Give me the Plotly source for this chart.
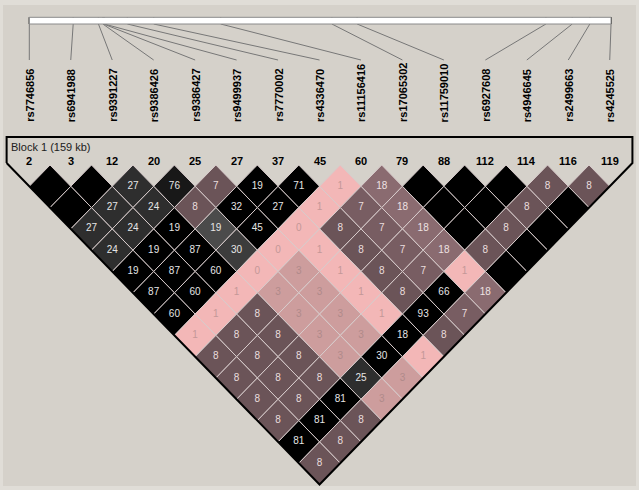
import plotly.graph_objects as go

# ---------------- data ----------------
snp_names = ["rs7746856", "rs6941988", "rs9391227", "rs9386426", "rs9386427",
             "rs9499937", "rs7770002", "rs4336470", "rs11156416", "rs17065302",
             "rs11759010", "rs6927608", "rs4946645", "rs2499663", "rs4245525"]
snp_index = ["2", "3", "12", "20", "25", "27", "37", "45", "60", "79",
             "88", "112", "114", "116", "119"]
snp_pos_kb = [0.0, 12.0, 18.9, 20.1, 20.3, 20.5, 26.8, 34.0, 52.3, 82.7,
              89.6, 141.2, 148.4, 153.2, 159.0]
block_label = "Block 1 (159 kb)"
block_kb = 159.0

# r2 x 100 shown in each diamond, row d = distance between markers (1..14)
ld_values = [
    ["", "", "27", "76", "7", "19", "71", "1", "18", "", "", "", "8", "8"],
    ["", "27", "24", "8", "32", "27", "1", "7", "18", "", "", "8", ""],
    ["27", "24", "19", "19", "45", "0", "8", "7", "18", "", "8", ""],
    ["24", "19", "87", "30", "0", "1", "8", "7", "18", "8", ""],
    ["19", "87", "60", "0", "3", "1", "8", "7", "1", ""],
    ["87", "60", "1", "3", "3", "1", "8", "66", "18"],
    ["60", "1", "8", "3", "3", "1", "93", "7"],
    ["1", "8", "8", "3", "3", "18", "8"],
    ["8", "8", "8", "3", "30", "1"],
    ["8", "8", "8", "25", "3"],
    ["8", "8", "81", "3"],
    ["8", "81", "8"],
    ["81", "8"],
    ["8"],
]
ld_colors = [
    "KKDNBKKPMKKKBB",
    "KDDBKKPCMKKBK",
    "DDKFKPBCMKBK",
    "DKKEPPBCMBK",
    "KKKPQPBCPK",
    "KKPQQPBKM",
    "KPBQQPKC",
    "PBBQQKB",
    "BBBQKP",
    "BBBDQ",
    "BBKQ",
    "BKB",
    "KB",
    "B",
]

palette = {
    "K": "#000000", "N": "#181818", "D": "#2e2e2e", "E": "#3c3c3c",
    "F": "#4b4b4b", "B": "#6b5458", "C": "#785d62", "M": "#8a6b70",
    "P": "#f3b7b7", "Q": "#cd9d9d",
}
text_col = {
    "K": "#e6e6e6", "N": "#e6e6e6", "D": "#e6e6e6", "E": "#e6e6e6",
    "F": "#e6e6e6", "B": "#eadede", "C": "#eadede", "M": "#eee2e2",
    "P": "#c49898", "Q": "#b08a8a",
}

# ---------------- geometry ----------------
W, H = 639, 490
X0 = 29.3
STEP = 41.46
HX = STEP / 2
HY = 21.3
TOP = 165.0
n = len(snp_names)


def xcol(i):
    return X0 + STEP * i


fig = go.Figure()

# background frame
fig.add_shape(type="rect", x0=3, y0=5, x1=636, y1=486, line=dict(width=0),
              fillcolor="#d5d1ca", layer="below")

# diamonds
tx, ty, tt, tc = [], [], [], []
for d, (row, crow) in enumerate(zip(ld_values, ld_colors), start=1):
    for k, (val, code) in enumerate(zip(row, crow)):
        i, j = k, k + d
        cx = (xcol(i) + xcol(j)) / 2
        cy = TOP + HY + (d - 1) * HY
        xs = [cx, cx + HX, cx, cx - HX, cx]
        ys = [cy - HY, cy, cy + HY, cy, cy - HY]
        fig.add_trace(go.Scatter(x=xs, y=ys, mode="lines", fill="toself",
                                 fillcolor=palette[code],
                                 line=dict(color="#d8cccc", width=1),
                                 hoverinfo="skip", showlegend=False))
        if val:
            tx.append(cx)
            ty.append(cy)
            tt.append(val)
            tc.append(text_col[code])

fig.add_trace(go.Scatter(x=tx, y=ty, text=tt, mode="text",
                         textfont=dict(family="Liberation Sans", size=10, color=tc),
                         hoverinfo="skip", showlegend=False))

# block outline
OUT_Y = 137.0
SIDE_Y = 163.0
off = (TOP + HY - SIDE_Y) * HX / HY
lx = xcol(0) - off
rx = xcol(n - 1) + off
by = TOP + HY * (n)
bx = (xcol(0) + xcol(n - 1)) / 2
fig.add_trace(go.Scatter(x=[lx, lx, rx, rx, bx, lx], y=[SIDE_Y, OUT_Y, OUT_Y, SIDE_Y, by, SIDE_Y],
                         mode="lines", line=dict(color="#000000", width=2),
                         hoverinfo="skip", showlegend=False))

# physical map bar
BAR_T, BAR_B = 17.3, 24.0
bar_l, bar_r = xcol(0), xcol(n - 1) + 1.3
fig.add_shape(type="rect", x0=bar_l, x1=bar_r, y0=BAR_T, y1=BAR_B,
              fillcolor="#ffffff", line=dict(color="#8a8a8a", width=1))
LINE_END = 60.0
for i, pos in enumerate(snp_pos_kb):
    px = bar_l + pos / block_kb * (bar_r - bar_l)
    fig.add_trace(go.Scatter(x=[px, px], y=[BAR_T, BAR_B], mode="lines",
                             line=dict(color="#000000", width=1.3),
                             hoverinfo="skip", showlegend=False))
    fig.add_trace(go.Scatter(x=[px, xcol(i)], y=[BAR_B, LINE_END], mode="lines",
                             line=dict(color="#777777", width=1),
                             hoverinfo="skip", showlegend=False))

# text labels
for i, name in enumerate(snp_names):
    fig.add_annotation(x=xcol(i), y=123, text=name, textangle=-90,
                       xanchor="center", yanchor="bottom", showarrow=False,
                       font=dict(family="Liberation Sans", size=11, color="#000000", weight="bold"),
                       borderpad=0)
    fig.add_annotation(x=xcol(i), y=161, text=snp_index[i],
                       xanchor="center", yanchor="middle", showarrow=False,
                       font=dict(family="Liberation Sans", size=11, color="#000000", weight="bold"),
                       borderpad=0)

fig.add_annotation(x=10, y=146.5, text=block_label, xanchor="left", yanchor="middle",
                   showarrow=False, borderpad=0,
                   font=dict(family="Liberation Sans", size=11, color="#202020"))

fig.update_layout(
    width=W, height=H, margin=dict(l=0, r=0, t=0, b=0),
    paper_bgcolor="#e0ddd7", plot_bgcolor="rgba(0,0,0,0)",
    xaxis=dict(range=[0, W], visible=False, fixedrange=True),
    yaxis=dict(range=[H, 0], visible=False, fixedrange=True),
    showlegend=False,
)

fig.write_html(
    "out.html",
    config={"displayModeBar": False},
    post_script="document.body.style.margin='0px';document.body.style.overflow='hidden';document.body.style.background='#e0ddd7';",
)
